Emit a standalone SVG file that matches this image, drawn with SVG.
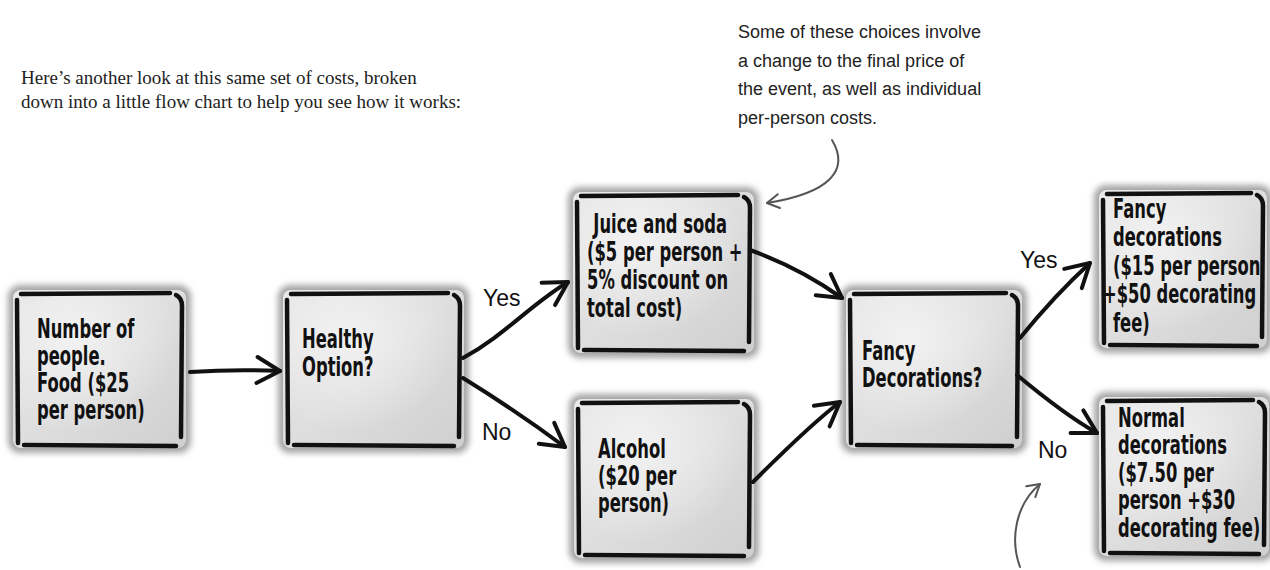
<svg xmlns="http://www.w3.org/2000/svg" width="1270" height="570" viewBox="0 0 1270 570">
<style>
.sh{fill:#a4a4a4;filter:url(#blur)}
.fl{fill:url(#gf)}
.hl{fill:url(#gh)}
.bd{fill:none;stroke:#111;stroke-width:4.5;stroke-linecap:round;stroke-linejoin:round}
.nt{font-family:"DejaVu Sans",sans-serif;font-weight:bold;font-size:26px;fill:#111}
.hand{font-family:"Liberation Sans",Arial,sans-serif;font-size:23px;fill:#111}
.note{font-family:"Liberation Sans",Arial,sans-serif;font-size:18px;fill:#222}
.intro{font-family:"Liberation Serif","Times New Roman",serif;font-size:19px;fill:#222}
.cn{fill:none;stroke:#111;stroke-width:4;stroke-linecap:round}
.cs{fill:none;stroke:#555;stroke-width:2;stroke-linecap:round}
</style>
<defs>
<filter id="blur" x="-10%" y="-10%" width="120%" height="120%"><feGaussianBlur stdDeviation="3"/></filter>
<linearGradient id="gf" x1="0" y1="0" x2="1" y2="1"><stop offset="0" stop-color="#e4e4e4"/><stop offset="0.5" stop-color="#dedede"/><stop offset="1" stop-color="#cfcfcf"/></linearGradient>
<radialGradient id="gh" cx="0.35" cy="0.3" r="0.6"><stop offset="0" stop-color="#f4f4f4" stop-opacity="0.9"/><stop offset="1" stop-color="#f4f4f4" stop-opacity="0"/></radialGradient>
<marker id="ah" markerUnits="userSpaceOnUse" viewBox="-28 -16 32 32" markerWidth="32" markerHeight="32" refX="0" refY="0" orient="auto"><path d="M-23,-13 L0,0 L-23,13" fill="none" stroke="#111" stroke-width="4" stroke-linecap="round" stroke-linejoin="round"/></marker>
<marker id="as" markerUnits="userSpaceOnUse" viewBox="-16 -10 20 20" markerWidth="20" markerHeight="20" refX="0" refY="0" orient="auto"><path d="M-12,-7 L0,0 L-12,7" fill="none" stroke="#555" stroke-width="2" stroke-linecap="round" stroke-linejoin="round"/></marker>
</defs>
<rect width="1270" height="570" fill="#fff"/>

<g id="intro">
<text class="intro" x="21" y="84">Here’s another look at this same set of costs, broken</text>
<text class="intro" x="21" y="108">down into a little flow chart to help you see how it works:</text>
</g>

<g id="note">
<text class="note" x="738" y="38">Some of these choices involve</text>
<text class="note" x="738" y="67">a change to the final price of</text>
<text class="note" x="738" y="95">the event, as well as individual</text>
<text class="note" x="738" y="124">per-person costs.</text>
</g>

<g id="n1">
<rect class="sh" x="8" y="285" width="183" height="168" rx="12"/>
<rect class="fl" x="13" y="290" width="173" height="158" rx="8"/>
<rect class="hl" x="13" y="290" width="173" height="158" rx="8"/>
<path class="bd" d="M21,294 L170,293 M176,295 Q182,298 182,306 L181,437 M17,300 L18,443 M24,445 L176,446"/>
<text class="nt" transform="translate(37,338) scale(0.63,1)"><tspan x="0" y="0">Number of</tspan><tspan x="0" dy="27">people.</tspan><tspan x="0" dy="27">Food ($25</tspan><tspan x="0" dy="27">per person)</tspan></text>
</g>

<g id="n2">
<rect class="sh" x="278" y="285" width="191" height="168" rx="12"/>
<rect class="fl" x="283" y="290" width="181" height="158" rx="8"/>
<rect class="hl" x="283" y="290" width="181" height="158" rx="8"/>
<path class="bd" d="M291,294 L448,293 M454,295 Q460,298 460,306 L459,437 M287,300 L288,443 M294,445 L454,446"/>
<text class="nt" transform="translate(302,348) scale(0.63,1)"><tspan x="0" y="0">Healthy</tspan><tspan x="0" dy="28">Option?</tspan></text>
</g>

<g id="n3">
<rect class="sh" x="568" y="187" width="191" height="171" rx="12"/>
<rect class="fl" x="573" y="192" width="181" height="161" rx="8"/>
<rect class="hl" x="573" y="192" width="181" height="161" rx="8"/>
<path class="bd" d="M581,196 L738,195 M744,197 Q750,200 750,208 L749,342 M577,202 L578,348 M584,350 L744,351"/>
<text class="nt" transform="translate(587,233) scale(0.63,1)"><tspan x="10" y="0">Juice and soda</tspan><tspan x="0" dy="28">($5 per person +</tspan><tspan x="0" dy="28">5% discount on</tspan><tspan x="0" dy="28">total cost)</tspan></text>
</g>

<g id="n4">
<rect class="sh" x="569" y="394" width="190" height="169" rx="12"/>
<rect class="fl" x="574" y="399" width="180" height="159" rx="8"/>
<rect class="hl" x="574" y="399" width="180" height="159" rx="8"/>
<path class="bd" d="M582,403 L738,402 M744,404 Q750,407 750,415 L749,547 M578,409 L579,553 M585,555 L744,556"/>
<text class="nt" transform="translate(598,458) scale(0.63,1)"><tspan x="0" y="0">Alcohol</tspan><tspan x="0" dy="27">($20 per</tspan><tspan x="0" dy="27">person)</tspan></text>
</g>

<g id="n5">
<rect class="sh" x="841" y="285" width="186" height="168" rx="12"/>
<rect class="fl" x="846" y="290" width="176" height="158" rx="8"/>
<rect class="hl" x="846" y="290" width="176" height="158" rx="8"/>
<path class="bd" d="M854,294 L1006,293 M1012,295 Q1018,298 1018,306 L1017,437 M850,300 L851,443 M857,445 L1012,446"/>
<text class="nt" transform="translate(862,360) scale(0.63,1)"><tspan x="0" y="0">Fancy</tspan><tspan x="0" dy="27">Decorations?</tspan></text>
</g>

<g id="n6">
<rect class="sh" x="1094" y="185" width="178" height="168" rx="12"/>
<rect class="fl" x="1099" y="190" width="168" height="158" rx="8"/>
<rect class="hl" x="1099" y="190" width="168" height="158" rx="8"/>
<path class="bd" d="M1107,194 L1251,193 M1257,195 Q1263,198 1263,206 L1262,337 M1103,200 L1104,343 M1110,345 L1257,346"/>
<text class="nt" transform="translate(1113,218) scale(0.63,1)"><tspan x="0" y="0">Fancy</tspan><tspan x="0" dy="28.5">decorations</tspan><tspan x="0" dy="28.5">($15 per person</tspan><tspan x="-16" dy="28.5">+$50 decorating</tspan><tspan x="0" dy="28.5">fee)</tspan></text>
</g>

<g id="n7">
<rect class="sh" x="1094" y="392" width="180" height="169" rx="12"/>
<rect class="fl" x="1099" y="397" width="170" height="159" rx="8"/>
<rect class="hl" x="1099" y="397" width="170" height="159" rx="8"/>
<path class="bd" d="M1107,401 L1253,400 M1259,402 Q1265,405 1265,413 L1264,545 M1103,407 L1104,551 M1110,553 L1259,554"/>
<text class="nt" transform="translate(1118,427) scale(0.63,1)"><tspan x="0" y="0">Normal</tspan><tspan x="0" dy="27.5">decorations</tspan><tspan x="0" dy="27.5">($7.50 per</tspan><tspan x="0" dy="27.5">person +$30</tspan><tspan x="0" dy="27.5">decorating fee)</tspan></text>
</g>

<g id="connectors">
<path class="cn" marker-end="url(#ah)" d="M190,372 Q235,369 280,371"/>
<path class="cn" marker-end="url(#ah)" d="M463,358 C505,335 530,305 568,282"/>
<path class="cn" marker-end="url(#ah)" d="M463,378 Q515,410 565,447"/>
<path class="cn" marker-end="url(#ah)" d="M750,250 Q800,268 842,298"/>
<path class="cn" marker-end="url(#ah)" d="M753,482 Q810,425 840,402"/>
<path class="cn" marker-end="url(#ah)" d="M1020,338 Q1055,295 1090,263"/>
<path class="cn" marker-end="url(#ah)" d="M1017,375 Q1065,415 1097,433"/>
<path class="cs" marker-end="url(#as)" d="M832,140 C850,170 830,193 767,203"/>
<path class="cs" marker-end="url(#as)" d="M1020,567 C1010,540 1015,505 1040,484"/>
<text class="hand" x="483" y="306">Yes</text>
<text class="hand" x="482" y="440">No</text>
<text class="hand" x="1020" y="268">Yes</text>
<text class="hand" x="1038" y="458">No</text>
</g>
</svg>
